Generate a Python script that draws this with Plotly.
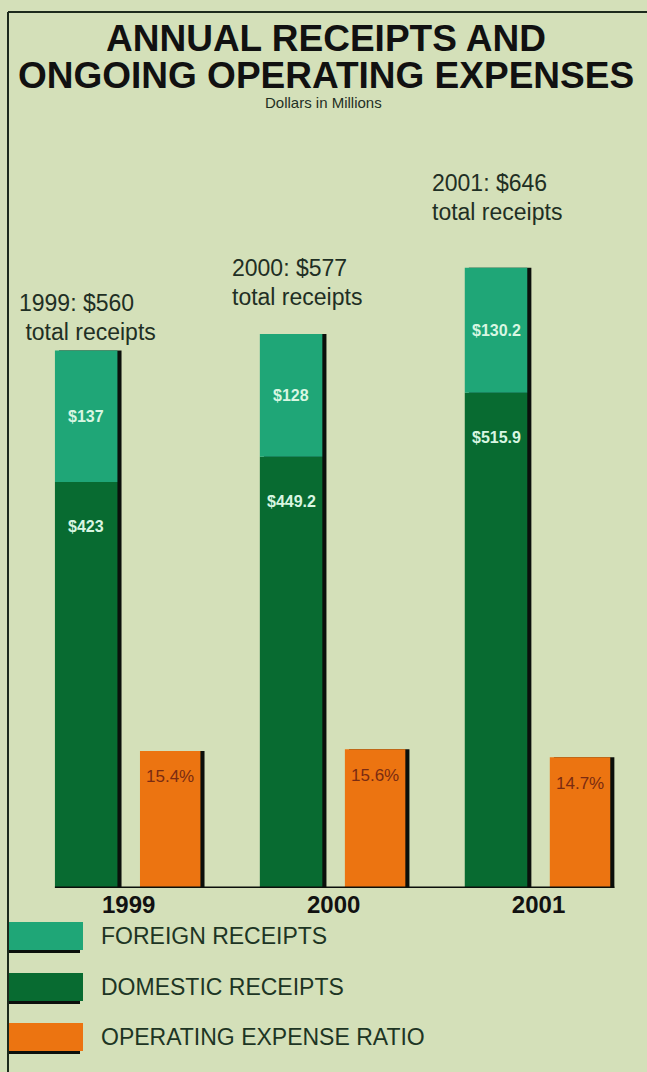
import plotly.graph_objects as go

# ---------------- data ----------------
years = ["1999", "2000", "2001"]
domestic = [423, 449.2, 515.9]
foreign = [137, 128, 130.2]
totals = [560, 577, 646]
expense_ratio = [15.4, 15.6, 14.7]
domestic_labels = ["$423", "$449.2", "$515.9"]
foreign_labels = ["$137", "$128", "$130.2"]
ratio_labels = ["15.4%", "15.6%", "14.7%"]
total_labels = ["1999: $560", "2000: $577", "2001: $646"]
legend_labels = ["FOREIGN RECEIPTS", "DOMESTIC RECEIPTS", "OPERATING EXPENSE RATIO"]

# ---------------- style ----------------
W, H = 647, 1072
ML, MR, MT, MB = 16, 6, 100, 184
PW, PH = W - ML - MR, H - MT - MB
BG = "#d4e0b9"
C_FOREIGN = "#1fa677"
C_DOMESTIC = "#086b31"
C_ORANGE = "#ec7411"
C_SHADOW = "#0b0f0b"
C_TEXT = "#1f2f24"
FONT = "Liberation Sans, Arial, Helvetica, sans-serif"

G_OFF, G_W = -0.36, 0.305
O_OFF, O_W = 0.055, 0.295
SH = 0.02  # shadow shift (axis units)


def xp(px):
    return (px - ML) / PW


def yp(py):
    return (H - MB - py) / PH


fig = go.Figure()
stack_tot = [d + f for d, f in zip(domestic, foreign)]

fig.add_trace(go.Bar(x=years, y=stack_tot, offset=G_OFF + SH, width=G_W,
                     marker=dict(color=C_SHADOW, line=dict(width=0)), yaxis="y"))
fig.add_trace(go.Bar(x=years, y=domestic, offset=G_OFF, width=G_W,
                     marker=dict(color=C_DOMESTIC, line=dict(width=0)), yaxis="y"))
fig.add_trace(go.Bar(x=years, y=foreign, base=domestic, offset=G_OFF, width=G_W,
                     marker=dict(color=C_FOREIGN, line=dict(width=0)), yaxis="y"))
fig.add_trace(go.Bar(x=years, y=expense_ratio, offset=O_OFF + SH, width=O_W,
                     marker=dict(color=C_SHADOW, line=dict(width=0)), yaxis="y2"))
fig.add_trace(go.Bar(x=years, y=expense_ratio, offset=O_OFF, width=O_W,
                     marker=dict(color=C_ORANGE, line=dict(width=0)), yaxis="y2"))

ann = []
for i in range(3):
    gx = i + G_OFF + G_W / 2
    ox = i + O_OFF + O_W / 2
    ann.append(dict(x=gx, y=domestic[i] + foreign[i] / 2, xref="x", yref="y",
                    xanchor="center", yanchor="middle",
                    text=f"<b>{foreign_labels[i]}</b>", showarrow=False,
                    font=dict(family=FONT, size=16, color="#d8f6e2")))
    ann.append(dict(x=gx, y=domestic[i], xref="x", yref="y", yshift=-45,
                    xanchor="center", yanchor="middle",
                    text=f"<b>{domestic_labels[i]}</b>", showarrow=False,
                    font=dict(family=FONT, size=16, color="#d8f6e2")))
    ann.append(dict(x=ox, y=expense_ratio[i], xref="x", yref="y2", yshift=-26,
                    xanchor="center", yanchor="middle",
                    text=ratio_labels[i], showarrow=False,
                    font=dict(family=FONT, size=17, color="#7a2b12")))

# total receipts callouts
tot_pos = [(17, 303), (230, 268), (430, 183)]
for i, (px, py) in enumerate(tot_pos):
    sub = "\u00a0total receipts" if i == 0 else "total receipts"
    ann.append(dict(x=xp(px), y=yp(py), xref="paper", yref="paper",
                    xanchor="left", yanchor="middle", align="left", showarrow=False,
                    text=total_labels[i], font=dict(family=FONT, size=23, color=C_TEXT)))
    ann.append(dict(x=xp(px), y=yp(py + 29), xref="paper", yref="paper",
                    xanchor="left", yanchor="middle", align="left", showarrow=False,
                    text=sub, font=dict(family=FONT, size=23, color=C_TEXT)))

# title
ann.append(dict(x=xp(W / 2 + 2), y=yp(38), xref="paper", yref="paper", showarrow=False,
                xanchor="center", yanchor="middle",
                text="<b>ANNUAL RECEIPTS AND</b>", font=dict(family=FONT, size=37, color="#111111")))
ann.append(dict(x=xp(W / 2 + 2), y=yp(75), xref="paper", yref="paper", showarrow=False,
                xanchor="center", yanchor="middle",
                text="<b>ONGOING OPERATING EXPENSES</b>", font=dict(family=FONT, size=37, color="#111111")))
ann.append(dict(x=xp(W / 2), y=yp(103), xref="paper", yref="paper", showarrow=False,
                xanchor="center", yanchor="middle",
                text="Dollars in Millions", font=dict(family=FONT, size=15, color=C_TEXT)))

shapes = []
# frame
shapes.append(dict(type="line", xref="paper", yref="paper", x0=xp(8), x1=xp(660),
                   y0=yp(12), y1=yp(12), line=dict(color="#1c2a1c", width=2)))
shapes.append(dict(type="line", xref="paper", yref="paper", x0=xp(8), x1=xp(8),
                   y0=yp(12), y1=yp(1080), line=dict(color="#1c2a1c", width=2)))
# baseline
shapes.append(dict(type="line", xref="x", yref="y", x0=G_OFF, x1=2 + O_OFF + O_W + SH,
                   y0=0, y1=0, line=dict(color=C_SHADOW, width=3)))

# legend
leg_colors = [C_FOREIGN, C_DOMESTIC, C_ORANGE]
leg_y = [936, 987, 1037]
for c, lab, cy in zip(leg_colors, legend_labels, leg_y):
    shapes.append(dict(type="rect", xref="paper", yref="paper", x0=xp(9), x1=xp(80),
                       y0=yp(cy + 17), y1=yp(cy + 14), fillcolor=C_SHADOW, line=dict(width=0)))
    shapes.append(dict(type="rect", xref="paper", yref="paper", x0=xp(9), x1=xp(83),
                       y0=yp(cy + 14), y1=yp(cy - 14), fillcolor=c, line=dict(width=0)))
    ann.append(dict(x=xp(99), y=yp(cy), xref="paper", yref="paper", xanchor="left",
                    yanchor="middle", showarrow=False, text=lab,
                    font=dict(family=FONT, size=23, color="#1d3524")))

fig.update_layout(
    width=W, height=H,
    margin=dict(l=ML, r=MR, t=MT, b=MB),
    paper_bgcolor=BG, plot_bgcolor=BG,
    barmode="overlay", showlegend=False,
    xaxis=dict(type="category", range=[-0.55, 2.5], showgrid=False, zeroline=False,
               showline=False, ticks="", tickfont=dict(family=FONT, size=24, color="#111111"),
               tickvals=years, ticktext=[f"<b>{y}</b>" for y in years], fixedrange=True),
    yaxis=dict(range=[0, PH / 0.96], visible=False, fixedrange=True),
    yaxis2=dict(range=[0, PH / 8.9], visible=False, overlaying="y", fixedrange=True),
    annotations=ann, shapes=shapes,
)

fig.write_html("out.html")
